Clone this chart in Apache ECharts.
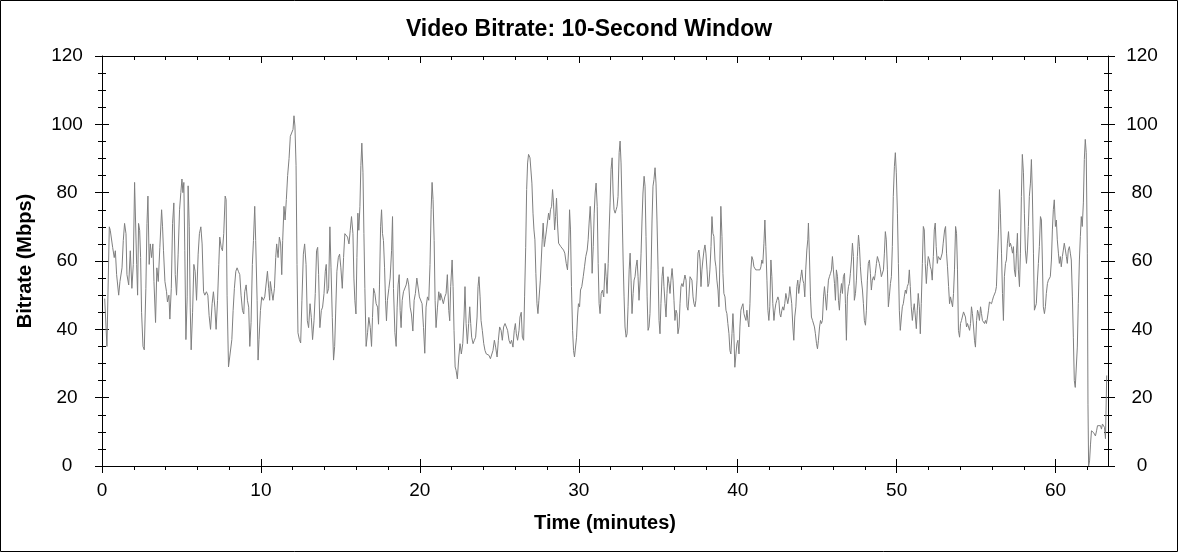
<!DOCTYPE html>
<html>
<head>
<meta charset="utf-8">
<script src="https://cdn.jsdelivr.net/npm/echarts@6/dist/echarts.min.js"></script>
<style>
  html, body { margin: 0; padding: 0; background: #fff; }
  #chart { width: 1178px; height: 552px; }
</style>
</head>
<body>
<div id="chart"></div>
<script>
// ---- Data (time in minutes, bitrate in Mbps) ----
const times = [
  0.17,0.25,0.31,0.46,0.52,0.63,0.67,0.77,0.84,0.92,1.05,1.13,1.26,1.34,1.42,1.51,1.57,1.68,1.78,1.88,1.97,2.05,2.09,2.18,2.24,2.30,2.37,2.43,2.49,2.58,2.66,2.76,2.83,2.89,2.97,3.04,3.12,3.20,3.27,3.37,3.45,3.54,3.64,3.75,3.81,3.87,3.96,4.06,4.12,4.21,4.27,4.36,4.44,4.52,4.61,4.69,4.79,4.88,4.96,5.03,5.09,5.15,5.21,5.28,5.36,5.42,5.49,5.55,5.61,5.70,5.78,5.86,5.95,6.05,6.13,6.22,6.30,6.39,6.47,6.57,6.66,6.74,6.83,6.93,7.01,7.10,7.18,7.27,7.35,7.41,7.50,7.58,7.66,7.75,7.81,7.87,7.96,8.08,8.17,8.25,8.33,8.42,8.50,8.58,8.67,8.75,8.84,8.92,8.98,9.07,9.15,9.23,9.30,9.38,9.46,9.53,9.61,9.67,9.76,9.82,9.88,9.97,10.05,10.15,10.24,10.32,10.41,10.49,10.55,
  10.59,10.68,10.76,10.85,10.93,10.99,11.08,11.16,11.24,11.31,11.37,11.45,11.52,11.60,11.68,11.77,11.85,11.93,12.02,12.08,12.14,12.21,12.27,12.33,12.42,12.50,12.58,12.67,12.75,12.84,12.92,13.00,13.09,13.17,13.25,13.34,13.42,13.50,13.57,13.63,13.71,13.80,13.88,13.97,14.05,14.11,14.17,14.26,14.34,14.41,14.49,14.57,14.64,14.70,14.78,14.87,14.95,15.03,15.12,15.20,15.28,15.37,15.45,15.54,15.62,15.70,15.79,15.85,15.91,15.98,16.04,16.10,16.16,16.23,16.29,16.35,16.42,16.48,16.54,16.62,16.71,16.79,16.88,16.96,17.02,17.09,17.17,17.25,17.34,17.40,17.46,17.53,17.59,17.65,17.71,17.78,17.84,17.90,17.96,18.05,18.13,18.22,18.28,18.34,18.43,18.51,18.57,18.63,18.70,18.76,18.82,18.89,18.97,19.05,19.14,19.22,19.30,19.39,19.47,19.56,19.64,19.72,19.81,19.89,19.97,20.06,20.14,20.23,20.31,20.39,20.48,20.56,20.64,20.71,20.77,20.83,20.90,20.96,21.02,21.11,21.19,21.27,
  21.31,21.40,21.48,21.57,21.65,21.73,21.82,21.88,21.94,22.03,22.09,22.15,22.22,22.28,22.36,22.45,22.53,22.61,22.70,22.78,22.84,22.91,22.99,23.07,23.14,23.20,23.26,23.35,23.43,23.51,23.60,23.66,23.72,23.79,23.85,23.93,24.02,24.10,24.18,24.27,24.35,24.44,24.52,24.60,24.69,24.77,24.86,24.94,25.02,25.11,25.19,25.27,25.36,25.44,25.52,25.61,25.69,25.77,25.86,25.94,26.01,26.07,26.15,26.24,26.30,26.38,26.45,26.53,26.59,26.66,26.72,26.78,26.84,26.93,26.99,27.05,27.12,27.18,27.24,27.30,27.37,27.43,27.49,27.58,27.64,27.70,27.76,27.83,27.89,27.97,28.04,28.10,28.16,28.22,28.29,28.35,28.41,28.48,28.54,28.60,28.66,28.73,28.79,28.87,28.96,29.04,29.12,29.21,29.29,29.36,29.42,29.48,29.54,29.61,29.67,29.73,29.79,29.86,29.92,29.98,30.05,30.11,30.19,30.28,30.36,30.44,30.53,30.59,30.65,30.72,30.78,30.84,30.91,30.97,31.03,31.09,31.16,31.22,31.28,31.34,31.41,31.49,31.57,
  31.66,31.72,31.78,31.85,31.91,31.97,32.03,32.10,32.16,32.22,32.29,32.35,32.41,32.47,32.54,32.60,32.66,32.73,32.79,32.85,32.91,32.98,33.04,33.10,33.17,33.23,33.29,33.35,33.42,33.48,33.54,33.60,33.67,33.73,33.79,33.86,33.92,33.98,34.04,34.11,34.17,34.23,34.30,34.36,34.42,34.48,34.55,34.61,34.67,34.73,34.80,34.86,34.92,34.99,35.05,35.11,35.17,35.24,35.30,35.36,35.43,35.49,35.55,35.61,35.68,35.74,35.80,35.87,35.93,35.99,36.05,36.12,36.18,36.24,36.31,36.37,36.43,36.49,36.56,36.62,36.68,36.75,36.81,36.87,36.93,37.00,37.06,37.12,37.19,37.25,37.31,37.37,37.44,37.50,37.56,37.63,37.69,37.75,37.81,37.88,37.94,38.00,38.07,38.13,38.19,38.25,38.32,38.38,38.44,38.50,38.57,38.63,38.69,38.76,38.82,38.88,38.94,39.01,39.07,39.13,39.20,39.26,39.32,39.38,39.45,39.51,39.57,39.64,39.70,39.76,39.82,39.89,39.95,40.01,40.08,40.14,40.20,40.26,40.33,40.39,40.45,40.52,40.58,40.64,40.70,40.77,40.83,40.89,40.96,41.02,41.08,41.14,41.21,41.27,41.33,41.40,41.46,41.52,41.58,41.65,41.71,41.77,41.84,41.90,41.96,42.02,42.09,42.15,42.21,42.28,42.34,42.40,42.46,42.53,42.59,
  42.65,42.71,42.78,42.84,42.90,42.96,43.03,43.09,43.15,43.22,43.28,43.34,43.40,43.47,43.53,43.59,43.66,43.72,43.78,43.84,43.91,43.97,44.03,44.10,44.16,44.22,44.28,44.35,44.41,44.45,44.52,44.58,44.64,44.71,44.77,44.83,44.89,44.96,45.02,45.08,45.15,45.21,45.27,45.33,45.40,45.46,45.52,45.59,45.65,45.71,45.77,45.84,45.90,45.96,46.02,46.09,46.15,46.21,46.28,46.34,46.40,46.46,46.53,46.59,46.65,46.72,46.78,46.84,46.90,46.97,47.03,47.09,47.16,47.22,47.28,47.34,47.41,47.47,47.53,47.60,47.66,47.72,47.78,47.85,47.91,47.97,48.04,48.10,48.16,48.22,48.29,48.35,48.41,48.47,48.54,48.60,48.66,48.73,48.79,48.85,48.91,48.98,49.04,49.10,49.17,49.23,49.29,49.35,49.42,49.48,49.54,49.61,49.67,49.73,49.79,49.86,49.92,49.98,50.05,50.11,50.17,50.23,50.30,50.36,50.42,50.48,50.55,50.61,50.67,50.74,50.80,50.86,50.92,50.99,51.05,51.11,51.18,51.24,51.30,51.36,51.43,51.49,51.55,51.62,51.68,51.74,51.80,51.87,51.93,51.99,52.06,52.12,52.18,52.24,52.31,52.37,52.43,52.49,52.56,52.62,52.68,52.75,52.81,52.87,52.93,
  53.02,53.08,53.14,53.20,53.27,53.33,53.39,53.45,53.52,53.58,53.64,53.71,53.77,53.83,53.89,53.96,54.02,54.08,54.15,54.21,54.27,54.33,54.40,54.46,54.52,54.59,54.65,54.71,54.77,54.84,54.90,54.96,55.03,55.09,55.15,55.21,55.28,55.34,55.40,55.47,55.53,55.59,55.65,55.72,55.78,55.84,55.90,55.97,56.03,56.09,56.16,56.22,56.28,56.34,56.41,56.47,56.53,56.60,56.66,56.72,56.78,56.85,56.91,56.97,57.04,57.10,57.16,57.22,57.29,57.35,57.41,57.48,57.54,57.60,57.66,57.73,57.79,57.85,57.91,57.98,58.04,58.10,58.17,58.23,58.29,58.35,58.42,58.48,58.54,58.61,58.67,58.73,58.79,58.86,58.92,58.98,59.05,59.11,59.17,59.23,59.30,59.36,59.42,59.49,59.55,59.61,59.67,59.74,59.80,59.86,59.92,59.99,60.05,60.11,60.18,60.24,60.30,60.36,60.43,60.49,60.55,60.62,60.68,60.74,60.80,60.87,60.93,60.99,61.06,61.12,61.18,61.24,61.31,61.37,61.43,61.50,61.56,61.62,61.68,61.75,61.81,61.87,61.93,62.00,62.04,62.08,62.14,62.20,62.26,62.33,62.39,62.45,62.51,62.58,62.64,62.70,62.76,62.83,62.89,62.95,63.02,63.08,63.14,63.22
];
const bitrate = [
  49,49.5,35,70,69,69,64,61,63,56,50,54,58,66,71,68,56,53,63,52,59,83,83,59,50,71,69,61,45,35,34,52,71,79,59,65,61,65,54,42,58,54,64,75,70,63,54,51,48,50,43,52,71,77,56,50,62,75,80,84,80,83,63,37,49.5,82,70,46.5,34,45,59,57,48.5,62,68,70,65,51,50,51,50,44,40,47.5,51,46.5,40,48.5,59,67,64,63,68,79,78,50,29,29,37,45.5,52,57,58,57,56,50,45.5,44.5,51,53,48.5,46.5,35,42,59,66,76,66,48.5,31,37,45.5,49.5,48.5,49.5,50,57,52,48.5,
  54,51,48.5,52,61,65,61,67,65,56,66,76,72,78,85,90,96.5,96.5,98.5,102.5,99.5,88,59,39,37,36,48.5,62,65,59,42.5,40.5,47.5,43.5,37,42.5,50.5,63,64,56,40.5,45.5,46.5,50.5,57,59,50.5,52,70,58,43.5,31,35,44.5,57,61,62,58,52,61,68,68.5,67,65,69,73,68,55,48.5,44.5,61,74,69,76,88,94.5,86,68,52,35,39,43.5,40.5,35,43.5,52,50.5,47.5,46.5,41.5,53,70,75,68,66,58,48.5,42.5,48.5,52,55,63,73,52,39,35,46.5,53,56,45.5,40.5,48.5,51,50.5,53,55,53,46.5,44.5,39.5,48.5,50.5,55,55,49.5,49.5,47.5,40.5,33,46.5,49.5,48.5,59,75,83,78,66,48.5,40.5,46.5,51,48.5,
  50.5,50,47.5,49.5,50.5,56,45.5,42.5,52.5,60.3,52.5,39.7,29,28,25.5,31.9,35.8,32.8,35.8,43.6,52.5,41.7,35.8,41.7,46.6,41.7,37.7,35.8,36.8,37.7,43.6,52.5,55.4,49.5,42.6,39.7,35.8,33.8,32.8,32.8,32.4,31.4,31.9,33.8,36.8,34.8,31.9,36.8,40.7,39.7,36.8,40.7,41.7,41.7,39.7,36.8,35.8,36.8,34.8,39.7,41.7,38.7,36.8,39.7,43.6,45,37.7,36.8,49.5,64,80.9,88.7,91.2,90.2,89.7,82.8,74,69.1,66.2,56.4,47.5,44.6,48.5,54.4,60.3,66.2,71.1,64.2,66.2,69.1,69.1,74,72,75,76,80.9,77,69.1,73,78.4,71.1,65.2,64.7,64.2,63.7,63.2,62.3,59.3,57.4,63.2,75,69.1,52.5,39.7,33.8,31.9,31.4,37.7,43.6,47.5,46.6,51.5,52.5,55.4,58.3,61.3,63.2,66.2,71.1,76,69.1,56.4,64.2,74,79.9,82.8,76,59.3,47.5,44.6,50.5,51.5,49.5,
  59.3,55.4,50.5,59.3,69.1,77,86.8,90.2,79.9,75,74,75,76,78.9,91.7,95.1,88.7,74,60.3,49.5,40.7,37.7,38.7,46.6,57.4,62.3,54.4,44.6,50.5,54.4,55.4,58.3,60.3,55.4,48.5,54.4,62.3,72,79.9,84.8,81.9,67.2,49.5,39.7,40.7,44.6,57.4,72,81.9,83.8,87.3,82.8,72,57.4,42.6,38.7,47.5,55.4,58.3,52.5,47.5,43.6,50.5,55.4,53.4,50.5,54.4,57.8,54.4,48.5,42.6,45.6,44.6,38.7,40.7,47.5,52.5,53.4,52.5,54.4,55.9,54.4,46.6,45.6,49.5,55.4,55.4,54.4,49.5,47.5,46.6,48.5,54.4,62.3,63.2,60.3,52.5,57.4,60.3,63.2,64.7,62.3,57.4,52.5,53.4,57.4,64.2,73,68.1,67.2,60.3,58.3,54.4,51.5,46.6,60.3,76,67.2,56.4,50.5,49.5,45.6,44.6,41.7,38.7,33.8,32.8,38.7,44.6,38.7,28.9,32.8,35.8,36.8,32.8,40.7,45.6,46.6,47.5,44.6,43.6,42.6,45.6,42.6,40.7,47.5,57.4,61.3,60.3,58.3,57.8,57.4,56.9,57.4,56.9,57.4,58.3,60.3,59.3,65.2,72,64.2,54.4,45.6,42.6,46.6,60.3,55.4,47.5,42.6,45.6,47.5,48.5,49.5,48.5,
  44.6,43.6,45.6,46.6,45.6,47.5,50.5,50.5,47.5,49.5,52.5,52.5,47.5,40.7,36.8,43.6,46.6,52.5,54.4,50.5,53.4,55.4,57.4,54.4,53.4,49.5,57.4,63.2,66.2,71.1,60.3,49.5,43.6,42.6,42.6,40.7,38.7,35.8,34.3,36.8,40.7,42.6,41.7,42.6,49.5,52.5,52.5,45.6,50.5,54.4,55.4,56.4,57.4,61.3,57.4,53.4,48.5,57.4,55.4,48.5,45.6,50.5,53.4,50.5,55.4,56.4,47.5,36.8,49.5,52.5,53.4,56.4,60.3,65.2,61.3,48.5,50.5,54.4,61.3,67.6,64.2,58.3,54.4,51.5,47.5,42.6,41.2,45.6,54.4,59.3,60.3,56.4,51.5,54.4,55.4,54.4,56.4,59.3,61.3,60.8,59.3,57.4,55.4,55.4,57.4,62.3,68.6,66.2,57.4,46.6,49.5,53.4,55.4,64.2,78.9,87.7,91.7,85.8,74,59.3,45.6,39.7,43.6,46.6,47.5,49.5,51.5,50.5,52.5,53.4,57.4,52.5,46.6,42.6,45.6,47.5,43.6,40.2,45.6,50.5,46.6,38.7,47.5,59.3,70.1,69.1,59.3,53.4,58.3,61.3,60.3,58.3,57.4,54.4,61.3,69.1,71.1,64.2,59.3,61.3,61.3,60.3,60.8,62.3,65.2,
  69.1,70.1,62.3,58.3,52.5,47.5,49.5,49.5,46.6,50.5,57.4,70.1,68.1,57.4,39.7,37.7,41.7,42.6,42.6,45.1,45.1,43.6,40.7,41.7,41.7,39.7,41.7,46.6,44.6,40.7,36.8,34.8,42.6,45.6,44.6,42.6,46.6,44.6,42.6,42.2,41.7,42.6,41.7,43.6,45.6,48,48.5,47.5,48.5,49.5,50,51,52.5,60.3,69.1,80.9,74,62.3,50.5,42.6,55.4,59.3,60.3,65.2,68.6,64.2,65.2,64.2,62.3,64.2,57.4,55.4,62.3,68.1,57.4,52.5,62.3,78.9,91.2,85.8,74,63.2,59.3,63.2,70.1,78.9,82.8,89.7,79.9,62.3,45.6,45.1,47.5,54.4,59.3,64.2,73,72,60.3,46.6,44.6,46.6,50.5,53.4,54.4,54.9,55.4,60.3,69.1,75,77.9,70.1,72,66.2,62.3,59.3,61.3,58.3,61.3,63.2,65.2,63.2,61.3,59.3,63.2,64.2,62.3,60.3,49.5,37.7,25,23,23,34.8,47.5,60.3,67.2,73,70.1,77,89.7,95.6,91.7,62.3,18.1,0,1.5,6.4,10.3,10.8,9.8,10.3,8.8,10.3,11.8,11.3,12.3,11.8,10.8,12.3,11.8,11.3,8,26.5
];

// ---- Axis ticks / labels ----
const xMajorTicks = [0, 10, 20, 30, 40, 50, 60];
const xMinorTicks = [0, 2, 4, 6, 8, 10, 12, 14, 16, 18, 20, 22, 24, 26, 28, 30, 32, 34, 36, 38, 40, 42, 44, 46, 48, 50, 52, 54, 56, 58, 60, 62];
const xRange = [0, 63.3];
const yRange = [0, 120];
const yStep = 20;

const titleText = 'Video Bitrate: 10-Second Window';
const xName = 'Time (minutes)';
const yName = 'Bitrate (Mbps)';

const FONT = '"Liberation Sans", Arial, sans-serif';
const black = '#000000';
const tickStyle = { color: black, width: 1 };

function xAxisDef(pos, ticks, len, inside, showLine, showLabel, extra) {
  return Object.assign({
    type: 'value', position: pos, min: xRange[0], max: xRange[1],
    interval: ticks === xMajorTicks ? 10 : 2,
    axisLine: { show: showLine, onZero: false, lineStyle: { color: black, width: 1 } },
    axisTick: { show: true, inside: inside, length: len, customValues: ticks, lineStyle: tickStyle },
    axisLabel: showLabel ? {
      show: true, customValues: xMajorTicks, fontSize: 19, fontFamily: FONT, color: black, margin: 15,
      formatter: function (v) { return String(v); }
    } : { show: false },
    splitLine: { show: false }
  }, extra || {});
}

function yAxisDef(pos, inside, showLine, showLabel, extra) {
  return Object.assign({
    type: 'value', position: pos, min: yRange[0], max: yRange[1], interval: yStep,
    axisLine: { show: showLine, onZero: false, lineStyle: { color: black, width: 1 } },
    axisTick: { show: true, inside: inside, length: 7, lineStyle: tickStyle },
    minorTick: { show: true, splitNumber: 4, length: 4, lineStyle: tickStyle },
    axisLabel: showLabel ? {
      show: true, fontSize: 19, fontFamily: FONT, color: black, align: 'center',
      margin: pos === 'left' ? 35 : 34
    } : { show: false },
    splitLine: { show: false },
    minorSplitLine: { show: false }
  }, extra || {});
}

const chart = echarts.init(document.getElementById('chart'), null, { renderer: 'canvas' });
chart.setOption({
  animation: false,
  backgroundColor: '#ffffff',
  textStyle: { fontFamily: FONT },
  title: {
    text: titleText, left: 'center', top: 13,
    textStyle: { fontSize: 23, fontWeight: 'bold', fontFamily: FONT, color: black }
  },
  grid: { left: 102, right: 70, top: 56, bottom: 86, containLabel: false },
  xAxis: [
    xAxisDef('bottom', xMinorTicks, 4, false, true, false),
    xAxisDef('bottom', xMajorTicks, 7, false, false, true, {
      name: xName, nameLocation: 'middle', nameGap: 57,
      nameTextStyle: { fontSize: 20, fontWeight: 'bold', fontFamily: FONT, color: black, verticalAlign: 'middle' }
    }),
    xAxisDef('bottom', xMajorTicks, 7, true, false, false),
    xAxisDef('top', xMinorTicks, 4, true, true, false),
    xAxisDef('top', xMajorTicks, 7, true, false, false)
  ],
  yAxis: [
    yAxisDef('left', false, true, true, {
      name: yName, nameLocation: 'middle', nameGap: 77,
      nameTextStyle: { fontSize: 20, fontWeight: 'bold', fontFamily: FONT, color: black, verticalAlign: 'middle' }
    }),
    yAxisDef('left', true, false, false),
    yAxisDef('right', false, true, true),
    yAxisDef('right', true, false, false)
  ],
  graphic: [{
    type: 'rect', silent: true, z: 100,
    shape: { x: 0.5, y: 0.5, width: 1177, height: 551 },
    style: { fill: 'none', stroke: black, lineWidth: 1 }
  }],
  series: [{
    type: 'line',
    xAxisIndex: 0, yAxisIndex: 0,
    data: times.map(function (t, i) { return [t, bitrate[i]]; }),
    showSymbol: false, symbol: 'none',
    lineStyle: { color: '#7f7f7f', width: 1 },
    z: 1
  }]
});
</script>
</body>
</html>
